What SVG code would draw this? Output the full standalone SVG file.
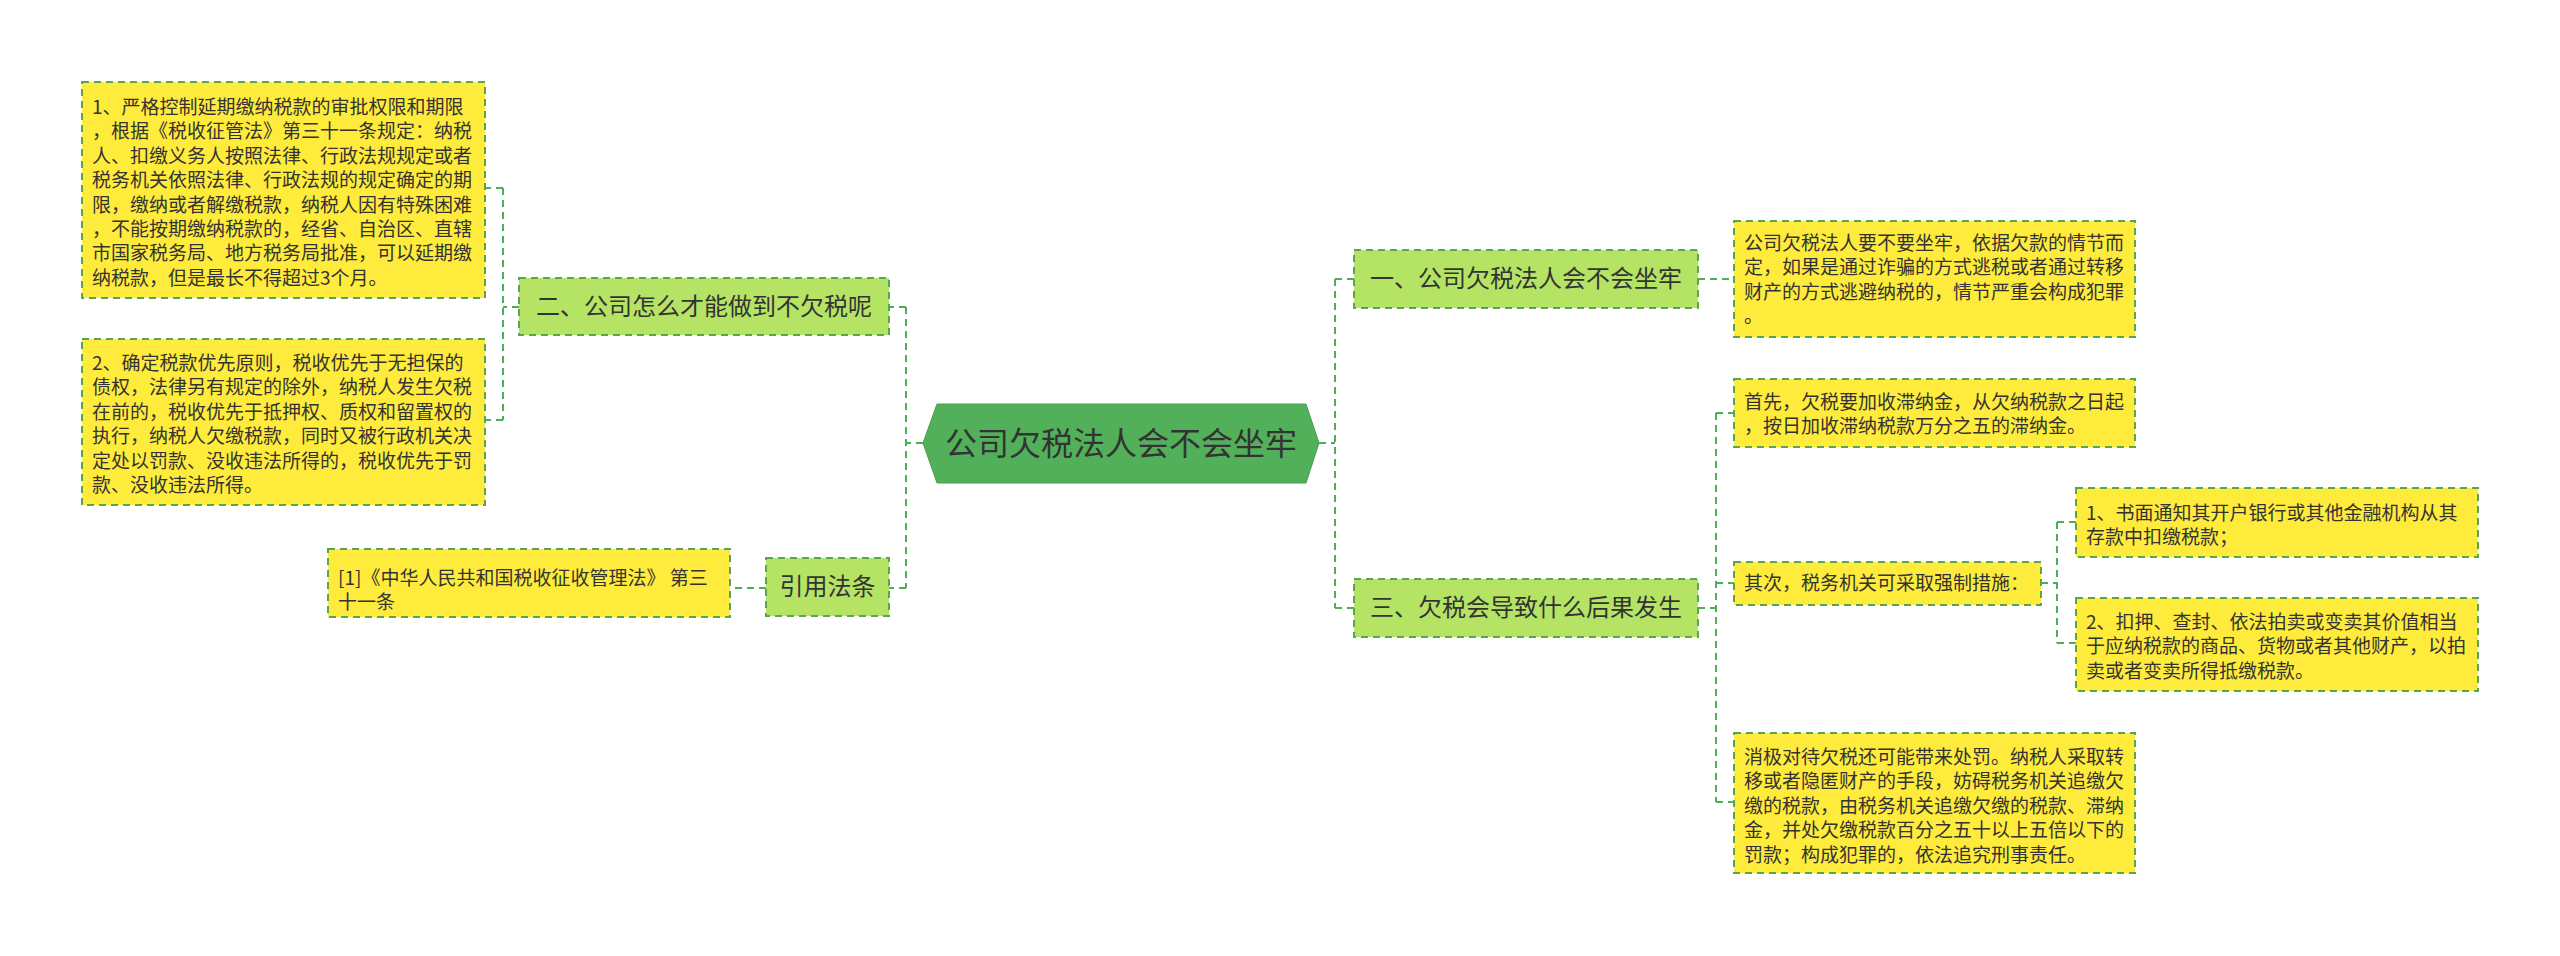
<svg xmlns="http://www.w3.org/2000/svg" width="2560" height="956" viewBox="0 0 2560 956">
<style>
.bg{fill:#ffffff}
.leaf{fill:#ffeb3b;stroke:#5aa552;stroke-width:2;stroke-dasharray:7 5}
.sub{fill:#b5e465;stroke:#5aa552;stroke-width:2;stroke-dasharray:7 5}
.root{fill:#52b05a;stroke:#4a9e50;stroke-width:1}
.conn{fill:none;stroke:#4caf50;stroke-width:2;stroke-dasharray:7 5}
text{font-family:"Noto Sans CJK SC","Noto Sans",sans-serif;fill:#333333}
.t19{font-size:19px}
.t24{font-size:24px}
.t32{font-size:32px}
</style>
<rect class="bg" x="0" y="0" width="2560" height="956"/>
<g id="connectors">
<path class="conn" d="M923,443 H906 M906,307 V588 M906,307 H889 M906,588 H889"/>
<path class="conn" d="M519,307 H503 M503,188 V420 M503,188 H485 M503,420 H485"/>
<path class="conn" d="M766,588 H730"/>
<path class="conn" d="M1319,443 H1335 M1335,279 V608 M1335,279 H1354 M1335,608 H1354"/>
<path class="conn" d="M1698,279 H1734"/>
<path class="conn" d="M1698,608 H1716 M1716,413 V802 M1716,413 H1734 M1716,583 H1734 M1716,802 H1734"/>
<path class="conn" d="M2041,583 H2057 M2057,522 V643 M2057,522 H2076 M2057,643 H2076"/>
</g>
<g id="root">
<polygon class="root" points="923,443 937,404 1306,404 1319,443 1306,483 937,483"/>
<text class="t32" x="1121" y="455" text-anchor="middle">公司欠税法人会不会坐牢</text>
</g>
<g id="n2">
<rect class="sub" x="519" y="278" width="370" height="57"/>
<text class="t24" x="704" y="315" text-anchor="middle">二、公司怎么才能做到不欠税呢</text>
</g>
<g id="n2a">
<rect class="leaf" x="82" y="82" width="403" height="216"/>
<text class="t19" x="92"><tspan x="92" y="114">1、严格控制延期缴纳税款的审批权限和期限</tspan><tspan x="92" y="138.4">，根据《税收征管法》第三十一条规定：纳税</tspan><tspan x="92" y="162.8">人、扣缴义务人按照法律、行政法规规定或者</tspan><tspan x="92" y="187.2">税务机关依照法律、行政法规的规定确定的期</tspan><tspan x="92" y="211.6">限，缴纳或者解缴税款，纳税人因有特殊困难</tspan><tspan x="92" y="236">，不能按期缴纳税款的，经省、自治区、直辖</tspan><tspan x="92" y="260.4">市国家税务局、地方税务局批准，可以延期缴</tspan><tspan x="92" y="284.8">纳税款，但是最长不得超过3个月。</tspan></text>
</g>
<g id="n2b">
<rect class="leaf" x="82" y="339" width="403" height="166"/>
<text class="t19" x="92"><tspan x="92" y="370">2、确定税款优先原则，税收优先于无担保的</tspan><tspan x="92" y="394.4">债权，法律另有规定的除外，纳税人发生欠税</tspan><tspan x="92" y="418.8">在前的，税收优先于抵押权、质权和留置权的</tspan><tspan x="92" y="443.2">执行，纳税人欠缴税款，同时又被行政机关决</tspan><tspan x="92" y="467.6">定处以罚款、没收违法所得的，税收优先于罚</tspan><tspan x="92" y="492">款、没收违法所得。</tspan></text>
</g>
<g id="n4">
<rect class="sub" x="766" y="558" width="123" height="58"/>
<text class="t24" x="827.5" y="595" text-anchor="middle">引用法条</text>
</g>
<g id="n4a">
<rect class="leaf" x="328" y="549" width="402" height="68"/>
<text class="t19" x="338"><tspan x="338" y="585">[1]《中华人民共和国税收征收管理法》 第三</tspan><tspan x="338" y="609.4">十一条</tspan></text>
</g>
<g id="n1">
<rect class="sub" x="1354" y="250" width="344" height="58"/>
<text class="t24" x="1526" y="287" text-anchor="middle">一、公司欠税法人会不会坐牢</text>
</g>
<g id="n1a">
<rect class="leaf" x="1734" y="221" width="401" height="116"/>
<text class="t19" x="1744"><tspan x="1744" y="250">公司欠税法人要不要坐牢，依据欠款的情节而</tspan><tspan x="1744" y="274.4">定，如果是通过诈骗的方式逃税或者通过转移</tspan><tspan x="1744" y="298.8">财产的方式逃避纳税的，情节严重会构成犯罪</tspan><tspan x="1744" y="323.2">。</tspan></text>
</g>
<g id="n3">
<rect class="sub" x="1354" y="579" width="344" height="58"/>
<text class="t24" x="1526" y="616" text-anchor="middle">三、欠税会导致什么后果发生</text>
</g>
<g id="n3a">
<rect class="leaf" x="1734" y="379" width="401" height="68"/>
<text class="t19" x="1744"><tspan x="1744" y="409">首先，欠税要加收滞纳金，从欠纳税款之日起</tspan><tspan x="1744" y="433.4">，按日加收滞纳税款万分之五的滞纳金。</tspan></text>
</g>
<g id="n3b">
<rect class="leaf" x="1734" y="562" width="307" height="43"/>
<text class="t19" x="1744" y="590">其次，税务机关可采取强制措施：</text>
</g>
<g id="n3b1">
<rect class="leaf" x="2076" y="488" width="402" height="69"/>
<text class="t19" x="2086"><tspan x="2086" y="520">1、书面通知其开户银行或其他金融机构从其</tspan><tspan x="2086" y="544.4">存款中扣缴税款；</tspan></text>
</g>
<g id="n3b2">
<rect class="leaf" x="2076" y="598" width="402" height="93"/>
<text class="t19" x="2086"><tspan x="2086" y="629">2、扣押、查封、依法拍卖或变卖其价值相当</tspan><tspan x="2086" y="653.4">于应纳税款的商品、货物或者其他财产，以拍</tspan><tspan x="2086" y="677.8">卖或者变卖所得抵缴税款。</tspan></text>
</g>
<g id="n3c">
<rect class="leaf" x="1734" y="733" width="401" height="140"/>
<text class="t19" x="1744"><tspan x="1744" y="764">消极对待欠税还可能带来处罚。纳税人采取转</tspan><tspan x="1744" y="788.4">移或者隐匿财产的手段，妨碍税务机关追缴欠</tspan><tspan x="1744" y="812.8">缴的税款，由税务机关追缴欠缴的税款、滞纳</tspan><tspan x="1744" y="837.2">金，并处欠缴税款百分之五十以上五倍以下的</tspan><tspan x="1744" y="861.6">罚款；构成犯罪的，依法追究刑事责任。</tspan></text>
</g>
</svg>
